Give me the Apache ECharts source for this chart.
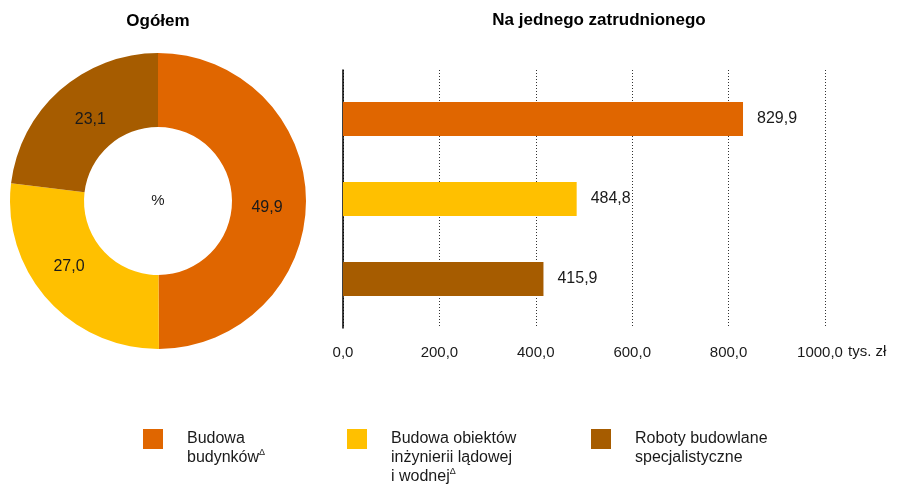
<!DOCTYPE html>
<html><head><meta charset="utf-8">
<script src="https://cdn.jsdelivr.net/npm/echarts@6/dist/echarts.min.js"></script>
<style>html,body{margin:0;padding:0;background:#fff}#c{width:902px;height:485px}</style>
</head><body><div id="c"></div>
<script>
const categories = ['Budowa budynków', 'Budowa obiektów inżynierii lądowej i wodnej', 'Roboty budowlane specjalistyczne'];
const legendLabels = ['Budowa\nbudynków{sup|Δ}', 'Budowa obiektów\ninżynierii lądowej\ni wodnej{sup|Δ}', 'Roboty budowlane\nspecjalistyczne'];
const legendLines = [2, 3, 2];
const shareValues = [49.9, 27.0, 23.1];
const perEmployeeValues = [829.9, 484.8, 415.9];
const xTicks = [0, 200, 400, 600, 800, 1000];
const colors = ['#E06600', '#FFC000', '#A65C00'];
const FONT = '"Liberation Sans", Arial, sans-serif';
const fmt = v => v.toFixed(1).replace('.', ',');

const chart = echarts.init(document.getElementById('c'));
const LH = 19;
const legendX = [143, 347, 591];
const legends = categories.map((c, i) => {
  const n = legendLines[i];
  const topOffset = 10 - (2 * n - 1) * LH / 2;
  return {
    data: [c], left: legendX[i], top: 429 + topOffset, orient: 'vertical', padding: 0,
    itemWidth: 20, itemHeight: 20, itemGap: 0, selectedMode: false, icon: 'rect',
    formatter: () => legendLabels[i],
    textStyle: { fontFamily: FONT, fontSize: 16, color: '#1a1a1a', lineHeight: LH,
      padding: [(n - 1) * LH, 0, 0, 19],
      rich: { sup: { fontSize: 9, fontFamily: FONT, color: '#1a1a1a', verticalAlign: 'top', lineHeight: 6 } } }
  };
});

const labelOffsets = [[-5, 7], [-4, -10], [8, 4]];

chart.setOption({
  animation: false,
  textStyle: { fontFamily: FONT },
  legend: legends,
  grid: [
    { left: 343, top: 70, width: 482, height: 258 },
    { left: 343, top: 79, width: 482, height: 240 }
  ],
  xAxis: [
    { gridIndex: 0, type: 'value', min: 0, max: 1000, interval: 200,
      axisLine: { show: false }, axisTick: { show: false },
      splitLine: { show: true, lineStyle: { color: '#333', type: [1, 2], width: 1 } },
      axisLabel: { margin: 17, fontSize: 15, color: '#1a1a1a', fontFamily: FONT,
        formatter: v => v === xTicks[xTicks.length - 1] ? '{last|' + fmt(v) + '}' : (xTicks.includes(v) ? fmt(v) : ''),
        rich: { last: { fontSize: 15, fontFamily: FONT, color: '#1a1a1a', padding: [0, 10, 0, 0] } } } },
    { gridIndex: 1, type: 'value', min: 0, max: 1000, show: false }
  ],
  yAxis: [
    { gridIndex: 0, type: 'category', data: categories, inverse: true,
      axisLine: { show: true, lineStyle: { color: '#000', width: 1.5 } },
      axisTick: { show: false }, axisLabel: { show: false }, splitLine: { show: false } },
    { gridIndex: 1, type: 'category', data: categories, inverse: true, show: false }
  ],
  graphic: [
    { type: 'text', x: 158, y: 21, style: { text: 'Ogółem', fontFamily: FONT, fontSize: 17, fontWeight: 'bold', fill: '#000', align: 'center', verticalAlign: 'middle' } },
    { type: 'text', x: 599, y: 20, style: { text: 'Na jednego zatrudnionego', fontFamily: FONT, fontSize: 17, fontWeight: 'bold', fill: '#000', align: 'center', verticalAlign: 'middle' } },
    { type: 'text', x: 158, y: 201, style: { text: '%', fontFamily: FONT, fontSize: 15, fill: '#1a1a1a', align: 'center', verticalAlign: 'middle' } },
    { type: 'text', x: 848, y: 352, style: { text: 'tys. zł', fontFamily: FONT, fontSize: 15, fill: '#1a1a1a', align: 'left', verticalAlign: 'middle' } }
  ],
  series: [
    { type: 'pie', center: [158, 201], radius: [74, 148], startAngle: 90, clockwise: true,
      legendHoverLink: false, silent: true,
      data: categories.map((c, i) => ({ name: c, value: shareValues[i], itemStyle: { color: colors[i] }, label: { offset: labelOffsets[i] } })),
      label: { show: true, position: 'inside', formatter: p => fmt(p.value), fontSize: 16, color: '#1a1a1a', fontFamily: FONT },
      labelLine: { show: false } },
    { type: 'bar', xAxisIndex: 1, yAxisIndex: 1, barWidth: 34, silent: true,
      data: perEmployeeValues.map((v, i) => ({ value: v, itemStyle: { color: colors[i] } })),
      label: { show: true, position: 'right', distance: 14, formatter: p => fmt(p.value), fontSize: 16, color: '#1a1a1a', fontFamily: FONT } }
  ]
});
</script></body></html>
